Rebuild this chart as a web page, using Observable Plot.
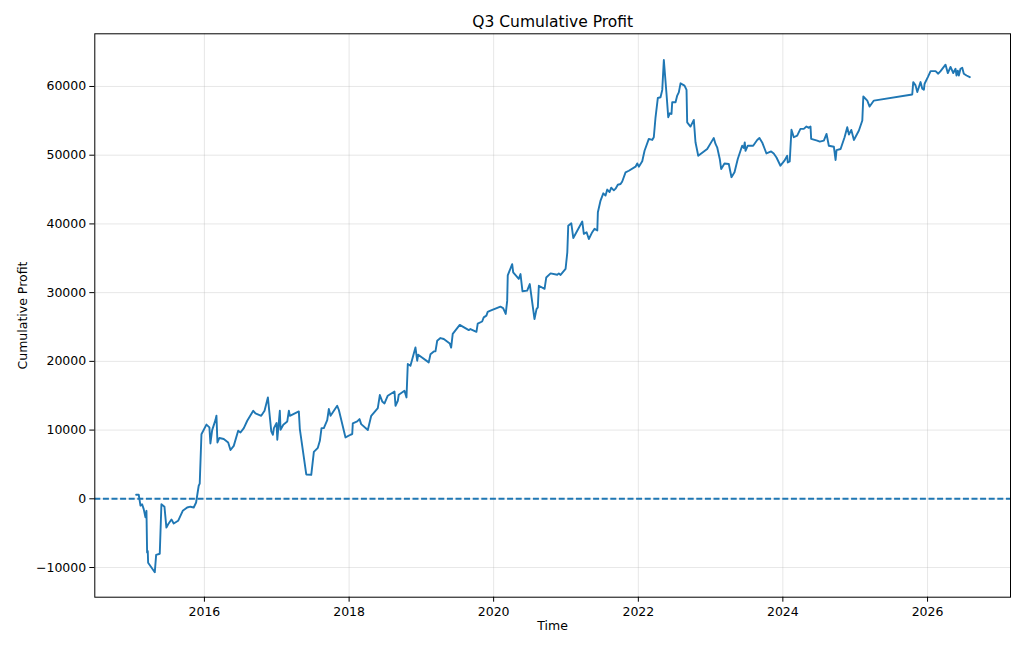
<!DOCTYPE html>
<html>
<head>
<meta charset="utf-8">
<script src="https://cdn.jsdelivr.net/npm/d3@7"></script>
<script src="https://cdn.jsdelivr.net/npm/@observablehq/plot@0.6"></script>
<style>
  html, body { margin: 0; padding: 0; background: #fff; }
  #chart svg { display: block; }
</style>
</head>
<body>
<div id="chart"></div>
<script>
// Time in decimal years
const years = [
  2015.055, 2015.091, 2015.115, 2015.138, 2015.160, 2015.184, 2015.198, 2015.207, 2015.216, 2015.221,
  2015.313, 2015.332, 2015.382, 2015.405, 2015.447, 2015.474, 2015.498, 2015.544, 2015.575, 2015.636,
  2015.700, 2015.761, 2015.806, 2015.852, 2015.885, 2015.921, 2015.935, 2015.959, 2016.028, 2016.069,
  2016.083, 2016.107, 2016.152, 2016.166, 2016.180, 2016.207, 2016.267, 2016.328, 2016.360, 2016.405,
  2016.466, 2016.498, 2016.544, 2016.591, 2016.674, 2016.705, 2016.784, 2016.830, 2016.876, 2016.923,
  2016.945, 2016.959, 2016.996, 2017.006, 2017.041, 2017.051, 2017.089, 2017.144, 2017.166, 2017.180,
  2017.304, 2017.318, 2017.407, 2017.476, 2017.512, 2017.567, 2017.595, 2017.618, 2017.650, 2017.697,
  2017.719, 2017.743, 2017.835, 2017.858, 2017.950, 2018.019, 2018.043, 2018.051, 2018.112, 2018.144,
  2018.167, 2018.259, 2018.306, 2018.365, 2018.397, 2018.425, 2018.458, 2018.490, 2018.535, 2018.628,
  2018.642, 2018.674, 2018.687, 2018.766, 2018.794, 2018.812, 2018.849, 2018.918, 2018.942, 2018.956,
  2019.102, 2019.126, 2019.172, 2019.195, 2019.219, 2019.264, 2019.310, 2019.393, 2019.412, 2019.434,
  2019.531, 2019.656, 2019.679, 2019.762, 2019.780, 2019.841, 2019.863, 2019.900, 2019.918, 2019.956,
  2020.094, 2020.131, 2020.167, 2020.187, 2020.195, 2020.256, 2020.270, 2020.347, 2020.371, 2020.398,
  2020.463, 2020.499, 2020.564, 2020.592, 2020.610, 2020.624, 2020.703, 2020.726, 2020.786, 2020.878,
  2020.900, 2020.924, 2020.993, 2021.017, 2021.030, 2021.072, 2021.100, 2021.224, 2021.246, 2021.284,
  2021.315, 2021.362, 2021.394, 2021.432, 2021.440, 2021.477, 2021.515, 2021.546, 2021.570, 2021.602,
  2021.625, 2021.661, 2021.685, 2021.716, 2021.754, 2021.777, 2021.823, 2021.869, 2021.961, 2021.985,
  2022.007, 2022.054, 2022.086, 2022.145, 2022.192, 2022.214, 2022.238, 2022.270, 2022.307, 2022.331,
  2022.353, 2022.390, 2022.414, 2022.436, 2022.459, 2022.469, 2022.515, 2022.538, 2022.560, 2022.584,
  2022.639, 2022.667, 2022.676, 2022.722, 2022.768, 2022.791, 2022.815, 2022.829, 2022.953, 2023.022,
  2023.044, 2023.068, 2023.091, 2023.127, 2023.147, 2023.192, 2023.252, 2023.289, 2023.331, 2023.376,
  2023.414, 2023.437, 2023.459, 2023.473, 2023.483, 2023.515, 2023.589, 2023.645, 2023.676, 2023.714,
  2023.773, 2023.838, 2023.874, 2023.912, 2023.967, 2024.022, 2024.060, 2024.068, 2024.095, 2024.119,
  2024.151, 2024.198, 2024.243, 2024.289, 2024.326, 2024.358, 2024.382, 2024.391, 2024.474, 2024.510,
  2024.566, 2024.603, 2024.635, 2024.704, 2024.728, 2024.741, 2024.797, 2024.852, 2024.889, 2024.912,
  2024.945, 2024.981, 2025.050, 2025.097, 2025.111, 2025.166, 2025.198, 2025.257, 2025.788, 2025.802,
  2025.834, 2025.858, 2025.903, 2025.927, 2025.949, 2025.959, 2026.004, 2026.042, 2026.111, 2026.148,
  2026.180, 2026.249, 2026.281, 2026.318, 2026.356, 2026.387, 2026.401, 2026.419, 2026.433, 2026.456,
  2026.480, 2026.502, 2026.539, 2026.585
];
const profit = [
  580, 600, -1000, -800, -1500, -2700, -1750, -7800, -7600, -9300,
  -10700, -8150, -8000, -800, -1150, -4200, -3700, -3000, -3600, -3200,
  -1750, -1270, -1150, -1270, -540, 1900, 2200, 9400, 10800, 10400,
  8050, 10000, 11450, 12100, 8200, 8850, 8700, 8200, 7100, 7700,
  9900, 9650, 10290, 11360, 12810, 12420, 12080, 12810, 14750, 9800,
  9320, 10290, 11020, 8600, 12810, 10050, 10780, 11260, 12810, 12080,
  12720, 10150, 3540, 3490, 6840, 7420, 8440, 10290, 10290, 11460,
  13060, 12080, 13540, 12920, 8930, 9320, 9420, 10970, 11260, 11600,
  10870, 10000, 12080, 12810, 13200, 15100, 14170, 13880, 15000, 15620,
  13540, 14270, 15140, 15720, 14750, 19610, 19370, 22030, 20090, 20970,
  19850, 21050, 21450, 21450, 23000, 23390, 23250, 22600, 22000, 24000,
  25300, 24550, 24700, 24300, 25500, 25800, 26400, 26650, 27200, 27370,
  27950, 27760, 26900, 28800, 32500, 34150, 32950, 32000, 32700, 30200,
  30290, 31250, 26150, 27600, 27850, 31000, 30550, 32200, 32800, 32600,
  32800, 32570, 33450, 35850, 39750, 40100, 37950, 40350, 38550, 38790,
  37800, 38800, 39300, 39050, 41700, 43400, 44450, 44130, 45000, 44640,
  45280, 44890, 45130, 45700, 45810, 46180, 47500, 47740, 48330, 48800,
  48330, 49110, 50650, 52370, 52220, 52610, 55520, 58330, 58430, 59500,
  63850, 58900, 55520, 56100, 56000, 57700, 57700, 58680, 59150, 60460,
  60130, 59500, 54780, 54160, 55130, 51890, 50650, 49920, 50900, 52120,
  52510, 51640, 51150, 49450, 47990, 48800, 48720, 46800, 47530, 49450,
  50650, 51380, 51040, 51860, 50650, 51380, 51380, 52220, 52510, 51860,
  50250, 50540, 50250, 49670, 48470, 49200, 49920, 48940, 49100, 53700,
  52610, 52850, 53830, 53830, 54170, 53980, 54170, 52370, 52120, 51980,
  52120, 53090, 51380, 51230, 49300, 50750, 50900, 52610, 54070, 53000,
  53680, 52220, 53590, 55040, 58540, 57950, 57080, 57950, 58830, 60640,
  60160, 59190, 60640, 59670, 59520, 60400, 61370, 62240, 62240, 61860,
  62240, 63170, 61940, 62840, 61960, 62580, 61600, 62310, 61600, 62580,
  62730, 61860, 61600, 61360
];
const xTickYears = [2016, 2018, 2020, 2022, 2024, 2026];
const yTicks = [-10000, 0, 10000, 20000, 30000, 40000, 50000, 60000];
const titleText = "Q3 Cumulative Profit";
const xLabel = "Time";
const yLabel = "Cumulative Profit";

function toDate(y) {
  const yr = Math.floor(y);
  const start = Date.UTC(yr, 0, 1), end = Date.UTC(yr + 1, 0, 1);
  return new Date(start + (y - yr) * (end - start));
}

const data = years.map((y, i) => ({date: toDate(y), value: profit[i]}));
const xTicks = xTickYears.map(y => new Date(Date.UTC(y, 0, 1)));
const blue = "#1f77b4";
const fmtY = d => d < 0 ? "\u2212" + Math.abs(d) : String(d);

const chart = Plot.plot({
  width: 1024,
  height: 652,
  marginLeft: 94.3,
  marginRight: 14,
  marginTop: 33.3,
  marginBottom: 55.3,
  style: {fontFamily: "'DejaVu Sans', sans-serif", fontSize: "12.5px", color: "#000", background: "#fff", overflow: "visible"},
  x: {type: "utc", domain: [toDate(2014.483), toDate(2027.148)]},
  y: {domain: [-14319, 67666]},
  marks: [
    Plot.gridX(xTicks, {stroke: "#b0b0b0", strokeOpacity: 0.3, strokeWidth: 1}),
    Plot.gridY(yTicks, {stroke: "#b0b0b0", strokeOpacity: 0.3, strokeWidth: 1}),
    Plot.ruleY([0], {stroke: blue, strokeWidth: 1.9, strokeDasharray: "6,2.6"}),
    Plot.line(data, {x: "date", y: "value", stroke: blue, strokeWidth: 1.9, strokeLinejoin: "round"}),
    Plot.frame({stroke: "#000", strokeWidth: 1, strokeOpacity: 1}),
    Plot.axisX(xTicks, {tickSize: 5, tickFormat: () => "", label: null}),
    Plot.axisY(yTicks, {tickSize: 5, tickFormat: () => "", label: null}),
    Plot.text(xTicks, {x: d => d, text: d => String(d.getUTCFullYear()), frameAnchor: "bottom", lineAnchor: "top", dy: 10, fontSize: 12.5}),
    Plot.text(yTicks, {y: d => d, text: fmtY, frameAnchor: "left", textAnchor: "end", lineAnchor: "middle", dx: -8.6, fontSize: 12.5}),
    Plot.text([titleText], {text: d => d, frameAnchor: "top", dy: -7, lineAnchor: "bottom", fontSize: 15.5}),
    Plot.text([xLabel], {text: d => d, frameAnchor: "bottom", dy: 33, fontSize: 12.5}),
    Plot.text([yLabel], {text: d => d, frameAnchor: "left", textAnchor: "middle", dx: -72, rotate: -90, fontSize: 12.5})
  ]
});
document.getElementById("chart").appendChild(chart);
</script>
</body>
</html>
